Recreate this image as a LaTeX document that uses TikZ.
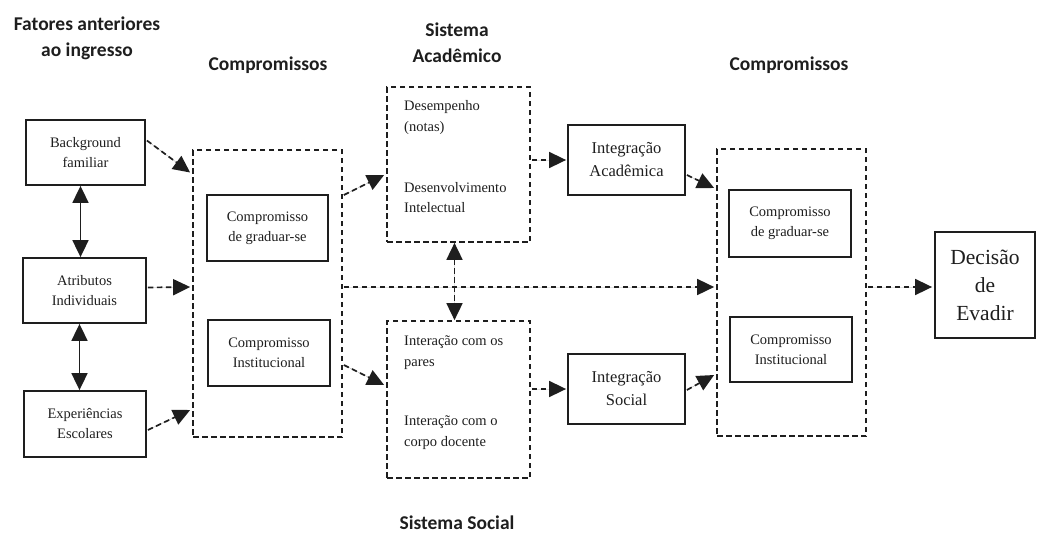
\documentclass[tikz,border=0pt]{standalone}
\usepackage{fontspec}
\setmainfont{Liberation Serif}
\newfontfamily\headfont{Carlito}
\usetikzlibrary{arrows.meta,calc}

\definecolor{ink}{HTML}{1E1E1E}

\tikzset{
  bigtip/.tip={Triangle[length=17pt,width=16pt]},
  solidbox/.style={draw=ink, line width=1.8pt, rectangle, inner sep=0pt,
    align=center, text=ink, font=\fontsize{14.5}{20}\selectfont},
  groupbox/.style={draw=ink, line width=1.7pt, dash pattern=on 5.5pt off 3.5pt,
    rectangle, inner sep=0pt},
  heading/.style={font=\headfont\bfseries\fontsize{19.5}{26.5}\selectfont,
    align=center, text=ink},
  inlist/.style={anchor=west, align=left, inner sep=0pt, text=ink,
    font=\fontsize{14.5}{20.5}\selectfont},
  flow/.style={-bigtip, draw=ink, fill=ink, line width=1.7pt,
    dash pattern=on 5.5pt off 3.5pt},
  twoway/.style={bigtip-bigtip, draw=ink, fill=ink, line width=1.8pt},
  twowaydash/.style={twoway, line width=1.7pt, dash pattern=on 5.5pt off 3.5pt},
}

\begin{document}
\begin{tikzpicture}[x=1pt, y=-1pt]
\useasboundingbox (0,0) rectangle (1037,536);

% headings
\node[heading] (hpre) at (87,38.5) {Fatores anteriores\\ao ingresso};
\node[heading] (hcomp1) at (268,65) {Compromissos};
\node[heading] (hacad) at (457,42.5) {Sistema\\Acadêmico};
\node[heading] (hcomp2) at (789,65) {Compromissos};
\node[heading] (hsoc) at (457,523) {Sistema Social};

% entry characteristics
\node[solidbox, minimum width=119pt, minimum height=65pt] (bg) at (85.5,152.5) {Background\\familiar};
\node[solidbox, minimum width=123pt, minimum height=65pt] (at) at (84.5,290.5) {Atributos\\Individuais};
\node[solidbox, minimum width=122pt, minimum height=66pt] (ex) at (85,424) {Experiências\\Escolares};

% initial commitments
\node[groupbox, minimum width=149pt, minimum height=287pt] (cl) at (267.5,293.5) {};
\node[solidbox, minimum width=121pt, minimum height=66pt] (cg) at (267.5,228) {Compromisso\\de graduar-se};
\node[solidbox, minimum width=122pt, minimum height=66pt] (ci) at (269,353) {Compromisso\\Institucional};

% academic and social systems
\node[groupbox, minimum width=143pt, minimum height=155pt] (sa) at (458.5,164.5) {};
\node[inlist] (sa1) at (404,117.5) {Desempenho\\(notas)};
\node[inlist] (sa2) at (404,197.5) {Desenvolvimento\\Intelectual};
\node[groupbox, minimum width=143pt, minimum height=157pt] (ss) at (458.5,399.5) {};
\node[inlist] (ss1) at (404,352.5) {Interação com os\\pares};
\node[inlist] (ss2) at (404,432.5) {Interação com o\\corpo docente};

% integration
\node[solidbox, minimum width=117pt, minimum height=70pt,
  font=\fontsize{16.5}{23}\selectfont] (ia) at (626.5,160) {Integração\\Acadêmica};
\node[solidbox, minimum width=117pt, minimum height=70pt,
  font=\fontsize{16.5}{23}\selectfont] (is) at (626.5,389) {Integração\\Social};

% later commitments
\node[groupbox, minimum width=149pt, minimum height=287pt] (cr) at (791.5,292.5) {};
\node[solidbox, minimum width=122pt, minimum height=67pt] (cg2) at (790,223.5) {Compromisso\\de graduar-se};
\node[solidbox, minimum width=122pt, minimum height=65pt] (ci2) at (791,349.5) {Compromisso\\Institucional};

% outcome
\node[solidbox, minimum width=100pt, minimum height=106pt,
  font=\fontsize{21.5}{28}\selectfont] (de) at (985,285) {Decisão\\de\\Evadir};

% links between entry characteristics
\draw[twoway] ([xshift=-5pt]bg.south) -- ([xshift=-5pt]bg.south |- at.north);
\draw[twoway] ([xshift=-5pt]at.south) -- ([xshift=-5pt]at.south |- ex.north);

% flows
\draw[flow] ($(bg.east)+(1,-12)$) -- ($(cl.west)+(-2,-121)$);
\draw[flow] ($(at.east)+(1,-3)$) -- ($(cl.west)+(-2,-6.5)$);
\draw[flow] ($(ex.east)+(1,6)$) -- ($(cl.west)+(-2,116.5)$);

\draw[flow] ($(cl.east)+(1,-98.5)$) -- ($(sa.west)+(-2,10.5)$);
\draw[flow] ($(cl.east)+(1,71.5)$) -- ($(ss.west)+(-2,-14.5)$);
\draw[flow] ($(cl.east)+(1,-6.5)$) -- ($(cr.west)+(-2,-5.5)$);

\draw[twowaydash] ([xshift=-4pt]sa.south) -- ([xshift=-4pt]ss.north);

\draw[flow] ($(ia.west -| sa.east)+(1,0)$) -- ($(ia.west)+(-1,0)$);
\draw[flow] ($(is.west -| ss.east)+(1,0)$) -- ($(is.west)+(-1,0)$);

\draw[flow] ($(ia.east)+(1,15)$) -- ($(cr.west)+(-2,-104.5)$);
\draw[flow] ($(is.east)+(1,1)$) -- ($(cr.west)+(-2,82.5)$);

\draw[flow] ($(cr.east)+(1,-5.5)$) -- ($(de.west)+(-2,2)$);
\end{tikzpicture}
\end{document}
